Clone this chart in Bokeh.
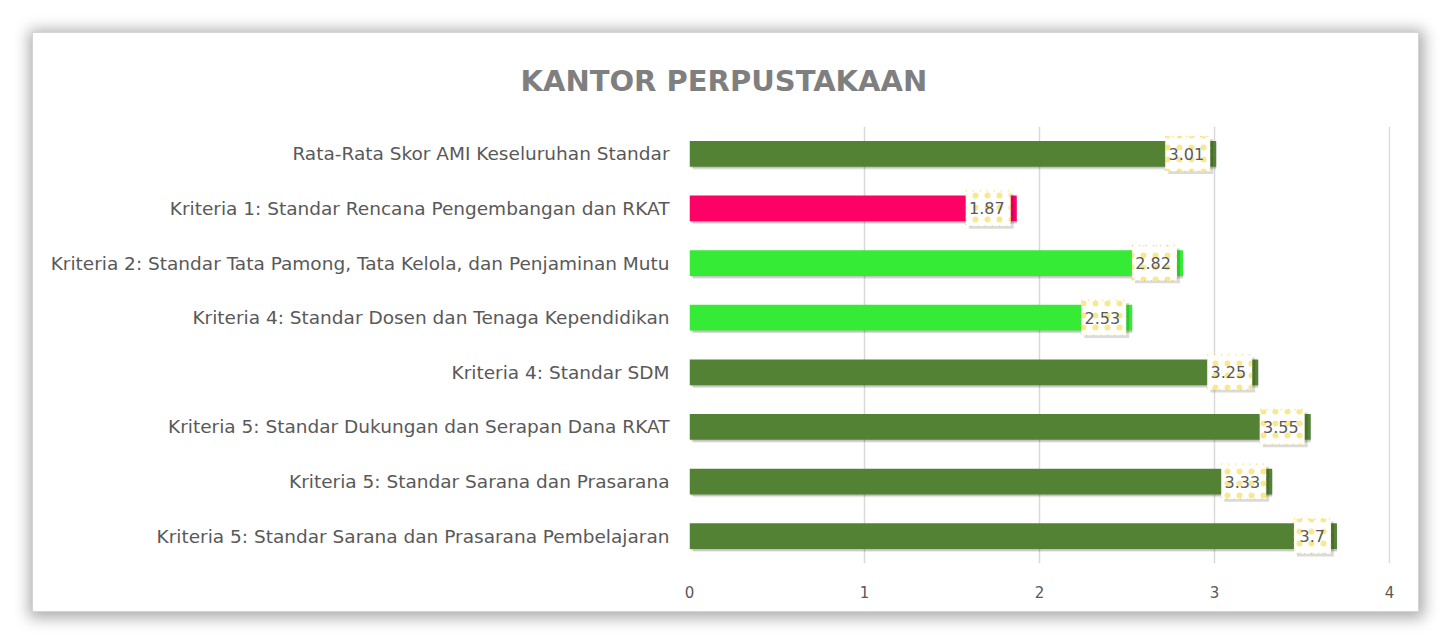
from bokeh.plotting import figure
from bokeh.models import ColumnDataSource, FactorRange, LabelSet, FixedTicker, Range1d
from bokeh.transform import dodge
from bokeh.core.properties import value
from bokeh.embed import file_html
from bokeh.resources import INLINE

title_text = "KANTOR PERPUSTAKAAN"
categories = [
    "Rata-Rata Skor AMI Keseluruhan Standar",
    "Kriteria 1: Standar Rencana Pengembangan dan RKAT",
    "Kriteria 2: Standar Tata Pamong, Tata Kelola, dan Penjaminan Mutu",
    "Kriteria 4: Standar Dosen dan Tenaga Kependidikan",
    "Kriteria 4: Standar SDM",
    "Kriteria 5: Standar Dukungan dan Serapan Dana RKAT",
    "Kriteria 5: Standar Sarana dan Prasarana",
    "Kriteria 5: Standar Sarana dan Prasarana Pembelajaran",
]
values = [3.01, 1.87, 2.82, 2.53, 3.25, 3.55, 3.33, 3.7]
bar_colors = ["#548235", "#FF0066", "#35EB35", "#35EB35", "#548235", "#548235", "#548235", "#548235"]
x_ticks = [0, 1, 2, 3, 4]

FONT = "DejaVu Sans"
TXT = "#595959"
X_MAX = 4.006
FRAME_W = 701  # pixels of the data frame
PX = FRAME_W / X_MAX

labels_txt = [str(v) for v in values]
box_w = [8 * len(t) + 13 for t in labels_txt]
box_x = [v - (6 + w / 2) / PX for v, w in zip(values, box_w)]
shadow_x = [x + 3 / PX for x in box_x]

src = ColumnDataSource(dict(cat=categories, val=values, color=bar_colors, lbl=labels_txt,
                            bw=box_w, bx=box_x, sx=shadow_x))

p = figure(width=1385, height=578, output_backend="svg", toolbar_location=None,
           y_range=FactorRange(factors=categories[::-1], range_padding=0),
           x_range=Range1d(0, X_MAX),
           min_border_left=656, min_border_right=28, min_border_top=91, min_border_bottom=48)
p.margin = (33, 0, 0, 33)
p.styles = {"box-shadow": "0 0 0 1px #d4d4d4, 1px 2px 14px 5px rgba(0,0,0,0.33)"}
p.outline_line_color = None
p.background_fill_color = "white"
p.border_fill_color = "white"

p.title.text = title_text
p.title.align = "left"
p.title.offset = -169
p.title.standoff = 57
p.title.text_font = FONT
p.title.text_font_size = "29px"
p.title.text_font_style = "bold"
p.title.text_color = "#7F7F7F"

p.ygrid.grid_line_color = None
p.xgrid.grid_line_color = "#d9d9d9"
p.xgrid.grid_line_width = 1.5
p.xaxis.ticker = FixedTicker(ticks=x_ticks)

for ax in (p.xaxis, p.yaxis):
    ax.axis_line_color = None
    ax.major_tick_line_color = None
    ax.minor_tick_line_color = None
    ax.major_label_text_font = FONT
    ax.major_label_text_color = TXT
p.yaxis.major_label_text_font_size = "18.5px"
p.yaxis.major_label_standoff = 14
p.xaxis.major_label_text_font_size = "15px"
p.xaxis.major_label_standoff = 16

# bar shadows
p.hbar(y=dodge("cat", -0.05, range=p.y_range), left=0.02, right="val", height=0.47,
       source=src, fill_color="black", fill_alpha=0.10, line_color=None)
p.hbar(y=dodge("cat", -0.03, range=p.y_range), left=0.01, right="val", height=0.47,
       source=src, fill_color="black", fill_alpha=0.15, line_color=None)
# bars
p.hbar(y="cat", left=0, right="val", height=0.47, source=src,
       fill_color="color", line_color=None)

# data label boxes
p.rect(x="sx", y=dodge("cat", -0.05, range=p.y_range), width="bw", height=35,
       width_units="screen", height_units="screen", source=src,
       fill_color="black", fill_alpha=0.14, line_color=None)
p.rect(x="bx", y="cat", width="bw", height=35, width_units="screen", height_units="screen",
       source=src, fill_color="white", line_color="#F2CC00", line_dash="1 6", line_width=1.2,
       line_alpha=0.7,
       hatch_pattern="dot", hatch_color="#F2CC00", hatch_scale=12, hatch_weight=0.6,
       hatch_alpha=0.45)

labels = LabelSet(x="val", y="cat", text="lbl", source=src,
                  x_offset=-12, text_align="right", text_baseline="middle",
                  text_font=value(FONT), text_font_size=value("16px"), text_color=TXT)
p.add_layout(labels)

open("out.html", "w").write(file_html(p, INLINE))
